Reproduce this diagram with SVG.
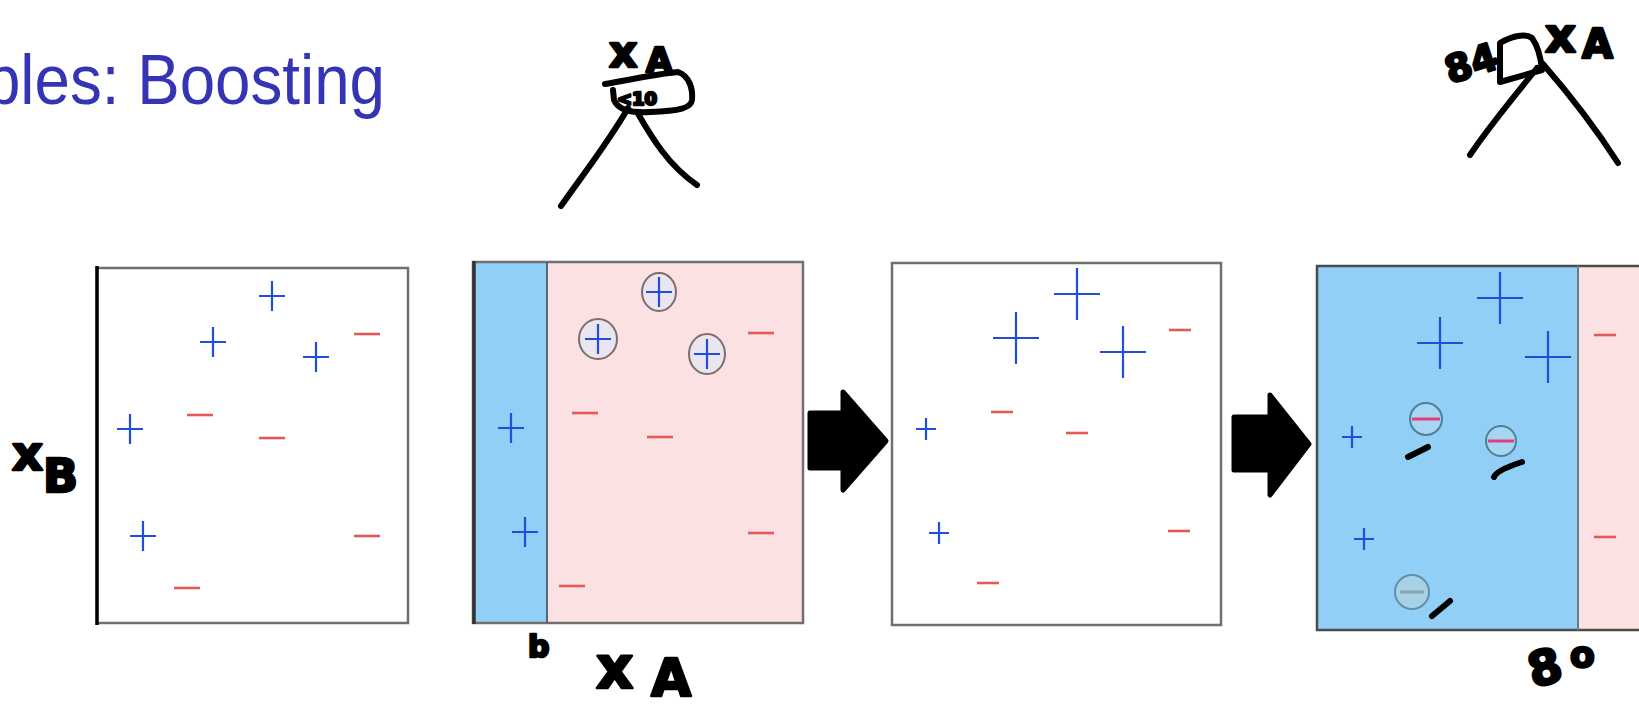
<svg xmlns="http://www.w3.org/2000/svg" xmlns:xlink="http://www.w3.org/1999/xlink" width="1639" height="710" viewBox="0 0 1639 710">
<style>
.title{font-family:"Liberation Sans","DejaVu Sans",sans-serif;fill:#3434b4;font-size:70px}
.hw{font-family:"DejaVu Sans",sans-serif;font-weight:bold;fill:#000;stroke:#000;stroke-width:2.5;stroke-linejoin:round}
.ink{fill:none;stroke:#000;stroke-width:6;stroke-linecap:round;stroke-linejoin:round}
.pl{fill:none;stroke:#1f4fd8;stroke-width:2.2}
.mi{fill:none;stroke:#e05a5a;stroke-width:2.6}
.frame{fill:none;stroke:#707070;stroke-width:2.5}
.arrow{fill:#000;stroke:#000;stroke-width:5;stroke-linejoin:round}
</style>
<defs>
<path id="p1" d="M-13,0H13M0,-15V15"/>
<path id="p3" d="M-23,0H23M0,-26V26"/>
<path id="ps" d="M-10,0H10M0,-11V11"/>
<path id="m1" d="M-13,0H13"/>
<path id="m3" d="M-11,0H11"/>
</defs>
<rect width="1639" height="710" fill="#fff"/>
<text class="title" transform="translate(385,104) scale(0.91,1)" x="0" y="0" text-anchor="end">Ensembles: Boosting</text>

<g id="tree1">
<text class="hw" x="609" y="67" font-size="44">x<tspan x="646" y="72" font-size="34">A</tspan></text>
<path class="ink" d="M605,84 C630,80 655,74 678,72 C690,76 693,90 692,100 C691,108 680,111 650,112 C630,113 618,110 614,100 L613,90" stroke-width="5"/>
<text class="hw" x="617" y="105" font-size="18" stroke-width="1">&lt;10</text>
<path class="ink" d="M628,108 C610,140 582,176 561,206"/>
<path class="ink" d="M637,112 C652,138 668,165 697,185"/>
</g>

<g id="tree2">
<text class="hw" x="1450" y="84" font-size="38" transform="rotate(-18 1450 84)">84</text>
<path class="ink" d="M1500,82 L1500,43 C1512,36 1525,33 1532,38 C1538,46 1541,60 1542,70 L1500,82" stroke-width="5"/>
<text class="hw" x="1545" y="52" font-size="48">x<tspan x="1582" y="58" font-size="40">A</tspan></text>
<path class="ink" d="M1537,68 C1518,92 1490,125 1470,155"/>
<path class="ink" d="M1543,64 C1570,95 1600,135 1618,163"/>
</g>

<g id="panel1">
<rect x="97" y="268" width="311" height="355" fill="#fff" class="frame"/>
<line x1="97" y1="266" x2="97" y2="625" stroke="#000" stroke-width="3.5"/>
<use href="#p1" class="pl" x="272" y="296"/>
<use href="#p1" class="pl" x="213" y="342"/>
<use href="#p1" class="pl" x="316" y="357"/>
<use href="#p1" class="pl" x="130" y="429"/>
<use href="#p1" class="pl" x="143" y="536"/>
<use href="#m1" class="mi" x="367" y="334"/>
<use href="#m1" class="mi" x="200" y="415"/>
<use href="#m1" class="mi" x="272" y="438"/>
<use href="#m1" class="mi" x="367" y="536"/>
<use href="#m1" class="mi" x="187" y="588"/>
<text class="hw" x="12" y="470" font-size="48">x<tspan x="43" y="492" font-size="46">B</tspan></text>
</g>

<g id="panel2">
<rect x="473" y="262" width="330" height="361" fill="#fbe1e1"/>
<rect x="473" y="262" width="74" height="361" fill="#91cff7"/>
<rect x="473" y="262" width="330" height="361" class="frame"/>
<line x1="547" y1="262" x2="547" y2="623" stroke="#4a5a66" stroke-width="1.8"/>
<line x1="474" y1="261" x2="474" y2="624" stroke="#333" stroke-width="3.5"/>
<ellipse cx="659" cy="292" rx="17" ry="19" fill="#ebe5ef" stroke="#7d6e6e" stroke-width="2"/>
<ellipse cx="598" cy="339" rx="19" ry="20" fill="#ebe5ef" stroke="#7d6e6e" stroke-width="2"/>
<ellipse cx="707" cy="354" rx="18" ry="20" fill="#ebe5ef" stroke="#7d6e6e" stroke-width="2"/>
<use href="#p1" class="pl" x="659" y="292"/>
<use href="#p1" class="pl" x="598" y="339"/>
<use href="#p1" class="pl" x="707" y="354"/>
<use href="#p1" class="pl" x="511" y="428"/>
<use href="#p1" class="pl" x="525" y="532"/>
<use href="#m1" class="mi" x="761" y="333"/>
<use href="#m1" class="mi" x="585" y="413"/>
<use href="#m1" class="mi" x="660" y="437"/>
<use href="#m1" class="mi" x="761" y="533"/>
<use href="#m1" class="mi" x="572" y="586"/>
<text class="hw" x="528" y="657" font-size="30">b</text>
<text class="hw" x="596" y="688" font-size="58">x<tspan x="651" y="696" font-size="52">A</tspan></text>
</g>

<g id="panel3">
<rect x="892" y="263" width="329" height="362" fill="#fff" class="frame"/>
<use href="#p3" class="pl" x="1077" y="294"/>
<use href="#p3" class="pl" x="1016" y="338"/>
<use href="#p3" class="pl" x="1123" y="352"/>
<use href="#ps" class="pl" x="926" y="429"/>
<use href="#ps" class="pl" x="939" y="533"/>
<use href="#m3" class="mi" x="1180" y="330"/>
<use href="#m3" class="mi" x="1002" y="412"/>
<use href="#m3" class="mi" x="1077" y="433"/>
<use href="#m3" class="mi" x="1179" y="531"/>
<use href="#m3" class="mi" x="988" y="583"/>
</g>

<g id="panel4">
<rect x="1317" y="266" width="340" height="364" fill="#fbe1e1"/>
<rect x="1317" y="266" width="261" height="364" fill="#91cff7"/>
<rect x="1317" y="266" width="340" height="364" fill="none" stroke="#4a4a4a" stroke-width="2.5"/>
<line x1="1578" y1="266" x2="1578" y2="630" stroke="#6a7a86" stroke-width="2"/>
<use href="#p3" class="pl" x="1500" y="298"/>
<use href="#p3" class="pl" x="1440" y="343"/>
<use href="#p3" class="pl" x="1548" y="357"/>
<use href="#ps" class="pl" x="1352" y="437"/>
<use href="#ps" class="pl" x="1364" y="539"/>
<use href="#m3" class="mi" x="1605" y="335"/>
<use href="#m3" class="mi" x="1605" y="537"/>
<circle cx="1426" cy="419" r="16" fill="#a6d6f2" stroke="#4c8096" stroke-width="2"/>
<circle cx="1501" cy="441" r="15" fill="#a6d6f2" stroke="#4c8096" stroke-width="2"/>
<circle cx="1412" cy="592" r="17" fill="#a6d2e8" stroke="#6a8fa0" stroke-width="2"/>
<path d="M1412,419H1440M1488,441H1514" stroke="#e0407a" stroke-width="3"/>
<path d="M1400,592H1424" stroke="#8aa2ac" stroke-width="3"/>
<path class="ink" d="M1408,457 L1428,447"/>
<path class="ink" d="M1494,477 Q1497,470 1522,462"/>
<path class="ink" d="M1432,616 L1450,601"/>
<text class="hw" x="1533" y="688" font-size="48" transform="rotate(-15 1533 688)">8</text>
<text class="hw" x="1570" y="667" font-size="36">o</text>
</g>

<g id="connectors">
<path class="arrow" d="M810,413 H843 V392 L886,441 L843,490 V468 H810 Z"/>
<path class="arrow" d="M1234,417 H1270 V395 L1309,444 L1270,495 V470 H1234 Z"/>
</g>
</svg>
